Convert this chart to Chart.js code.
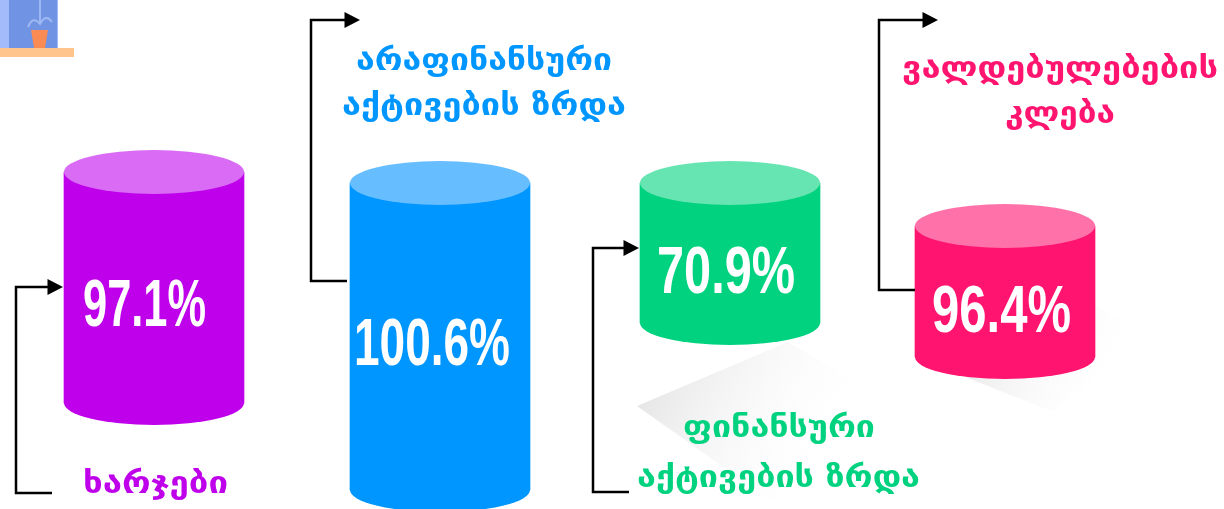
<!DOCTYPE html>
<html>
<head>
<meta charset="utf-8">
<title>chart</title>
<script src="https://cdn.jsdelivr.net/npm/chart.js@4/dist/chart.umd.min.js"></script>
<style>
  html, body { margin: 0; background: #fff; overflow: hidden; }
  canvas { display: block; }
</style>
</head>
<body>
<canvas id="chart" width="1224" height="509"></canvas>
<script>
const categories = ['ხარჯები', 'არაფინანსური აქტივების ზრდა', 'ფინანსური აქტივების ზრდა', 'ვალდებულებების კლება'];
const percents = [97.1, 100.6, 70.9, 96.4];
// the drawn heights do not follow the percents, so they are read off the picture
const columnAt = [154, 440, 730, 1005];
const cylinderTop = [337, 326, 326, 283];
const cylinderBase = [106, 19, 186, 152];

const bodyColors = ['#bf00eb', '#0096ff', '#00d27f', '#ff146f'];
const capColors = ['#d96bf5', '#66bdff', '#66e5b2', '#ff72a9'];
const capRadius = 22;

// label lines: text, centre x, baseline y, width
const labelLines = [
  [[categories[0], 155.5, 493, 145]],
  [['არაფინანსური', 484, 70, 256], ['აქტივების ზრდა', 484, 115, 284]],
  [['ფინანსური', 779, 437, 192], ['აქტივების ზრდა', 778.5, 487, 283]],
  [['ვალდებულებების', 1060, 78, 316], ['კლება', 1060, 123, 110]]
];
const percentBoxes = [[144.5, 326, 123], [432, 365, 156], [726, 293, 138], [1001.5, 332, 139]];

// connector paths, the arrow head goes on the last point
const connectors = [
  [[52, 493], [16, 493], [16, 287], [63, 287]],
  [[347, 281], [311, 281], [311, 20], [360, 20]],
  [[629, 492], [593, 492], [593, 248], [639, 248]],
  [[915, 290], [879, 290], [879, 20], [938, 20]]
];

function ellipse(ctx, x, y, rx, color) {
  ctx.fillStyle = color;
  ctx.beginPath();
  ctx.ellipse(x, y, rx, capRadius, 0, 0, Math.PI * 2);
  ctx.fill();
}

// stretch or squeeze a line so it takes the width it has in the picture
function fitText(ctx, text, cx, y, width) {
  const natural = ctx.measureText(text).width;
  ctx.save();
  ctx.translate(cx, y);
  ctx.scale(width / natural, 1);
  ctx.fillText(text, 0, 0);
  ctx.restore();
}

function drawWindow(ctx) {
  ctx.save();
  ctx.filter = 'blur(0.7px)';
  ctx.fillStyle = '#a3bbfb';
  ctx.fillRect(-2, -2, 60, 50);
  ctx.fillStyle = '#7093e3';
  ctx.fillRect(9, -2, 48, 50);
  ctx.strokeStyle = '#9db8f2';
  ctx.lineWidth = 2;
  ctx.beginPath();
  ctx.moveTo(28, 27);
  ctx.quadraticCurveTo(33, 15, 40, 24);
  ctx.quadraticCurveTo(46, 13, 52, 22);
  ctx.moveTo(40, 24);
  ctx.lineTo(40, 0);
  ctx.stroke();
  ctx.fillStyle = '#fb8b54';
  ctx.beginPath();
  ctx.moveTo(31, 30);
  ctx.lineTo(48, 30);
  ctx.lineTo(45, 48);
  ctx.lineTo(34, 48);
  ctx.closePath();
  ctx.fill();
  ctx.fillStyle = '#ffc48c';
  ctx.fillRect(-2, 48, 76, 9);
  ctx.restore();
}

function drawShadows(ctx) {
  let g = ctx.createLinearGradient(640, 370, 830, 470);
  g.addColorStop(0, '#e2e2e2');
  g.addColorStop(1, 'rgba(255,255,255,0)');
  ctx.fillStyle = g;
  ctx.beginPath();
  ctx.moveTo(788, 342);
  ctx.lineTo(637, 406);
  ctx.lineTo(770, 500);
  ctx.lineTo(905, 410);
  ctx.closePath();
  ctx.fill();

  g = ctx.createLinearGradient(970, 330, 1110, 400);
  g.addColorStop(0, '#e6e6e6');
  g.addColorStop(1, 'rgba(255,255,255,0)');
  ctx.fillStyle = g;
  ctx.beginPath();
  ctx.moveTo(1095, 305);
  ctx.lineTo(953, 372);
  ctx.lineTo(1053, 412);
  ctx.lineTo(1145, 335);
  ctx.closePath();
  ctx.fill();
}

function drawConnector(ctx, pts) {
  ctx.strokeStyle = '#000';
  ctx.lineWidth = 2.5;
  ctx.lineJoin = 'miter';
  ctx.beginPath();
  const [tipX, tipY] = pts[pts.length - 1];
  pts.forEach((p, i) => {
    if (i === 0) ctx.moveTo(p[0], p[1]);
    else if (i === pts.length - 1) ctx.lineTo(tipX - 10, tipY);
    else ctx.lineTo(p[0], p[1]);
  });
  ctx.stroke();
  ctx.fillStyle = '#000';
  ctx.beginPath();
  ctx.moveTo(tipX, tipY);
  ctx.lineTo(tipX - 15.5, tipY - 8);
  ctx.lineTo(tipX - 15.5, tipY + 8);
  ctx.closePath();
  ctx.fill();
}

const cylinderPlugin = {
  id: 'cylinders',
  beforeDatasetsDraw(chart) {
    const ctx = chart.ctx;
    drawWindow(ctx);
    drawShadows(ctx);
    chart.getDatasetMeta(0).data.forEach((bar, i) => {
      ellipse(ctx, bar.x, bar.base, bar.width / 2, bodyColors[i]);
    });
  },
  afterDatasetsDraw(chart) {
    const ctx = chart.ctx;
    chart.getDatasetMeta(0).data.forEach((bar, i) => {
      ellipse(ctx, bar.x, bar.y, bar.width / 2, capColors[i]);
    });

    connectors.forEach(pts => drawConnector(ctx, pts));

    ctx.textAlign = 'center';
    ctx.textBaseline = 'alphabetic';
    percents.forEach((p, i) => {
      const box = percentBoxes[i];
      ctx.fillStyle = '#fff';
      ctx.font = 'bold 67px "Liberation Sans"';
      fitText(ctx, p + '%', box[0], box[1], box[2]);
    });
    labelLines.forEach((lines, i) => {
      ctx.fillStyle = bodyColors[i];
      ctx.font = 'bold 31px "DejaVu Sans"';
      lines.forEach(l => fitText(ctx, l[0], l[1], l[2], l[3]));
    });
  }
};

new Chart(document.getElementById('chart'), {
  type: 'bar',
  data: {
    datasets: [{
      data: categories.map((c, i) => ({ x: columnAt[i], y: [cylinderBase[i], cylinderTop[i]] })),
      backgroundColor: bodyColors,
      borderWidth: 0,
      barThickness: 180
    }]
  },
  options: {
    responsive: false,
    animation: false,
    layout: { padding: 0 },
    plugins: { legend: { display: false }, tooltip: { enabled: false } },
    scales: {
      x: { type: 'linear', min: 0, max: 1224, offset: false, display: false },
      y: { min: 0, max: 509, display: false }
    }
  },
  plugins: [cylinderPlugin]
});
</script>
</body>
</html>
